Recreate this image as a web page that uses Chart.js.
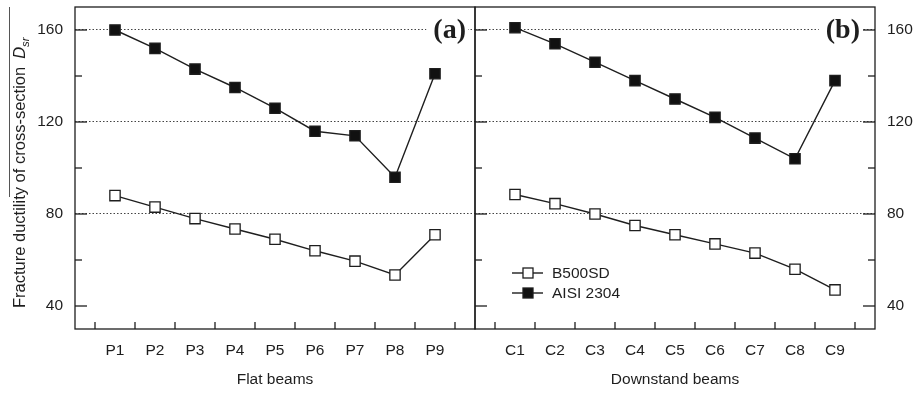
<!DOCTYPE html>
<html>
<head>
<meta charset="utf-8">
<script src="https://cdn.jsdelivr.net/npm/chart.js@4.4.1/dist/chart.umd.min.js"></script>
<style>
  body { margin: 0; background: #fff; width: 915px; height: 393px; overflow: hidden; position: relative; }
  #wrapFlat { position: absolute; left: 0; top: 0; width: 480px; height: 393px; }
  #wrapDown { position: absolute; left: 470px; top: 0; width: 445px; height: 393px; }
</style>
</head>
<body>
<div id="wrapFlat"><canvas id="chartFlat" width="480" height="393"></canvas></div>
<div id="wrapDown"><canvas id="chartDown" width="445" height="393"></canvas></div>
<script>
// beams on each panel
const flatBeams = ['P1', 'P2', 'P3', 'P4', 'P5', 'P6', 'P7', 'P8', 'P9'];
const downstandBeams = ['C1', 'C2', 'C3', 'C4', 'C5', 'C6', 'C7', 'C8', 'C9'];

// fracture ductility D_sr
const b500Flat = [88, 83, 78, 73.5, 69, 64, 59.5, 53.5, 71];
const aisiFlat = [160, 152, 143, 135, 126, 116, 114, 96, 141];
const b500Down = [88.5, 84.5, 80, 75, 71, 67, 63, 56, 47];
const aisiDown = [161, 154, 146, 138, 130, 122, 113, 104, 138];

const seriesNames = ['B500SD', 'AISI 2304'];
const yLabels = [40, 80, 120, 160];
const yMinor = [60, 100, 140];
const yGrid = [80, 120, 160];

const ink = '#1e1e1e';
const sans = '"Liberation Sans", Arial, sans-serif';
const tickFont = { family: sans, size: 15.5 };

function toPoints(values) {
  return values.map((v, i) => ({ x: i + 1, y: v }));
}

function seriesStyle(fill) {
  return {
    borderColor: ink,
    borderWidth: 1.4,
    pointStyle: 'rect',
    pointRadius: 7.3,
    pointHoverRadius: 7.3,
    pointBackgroundColor: fill,
    pointBorderColor: ink,
    pointBorderWidth: 1.3,
    tension: 0,
  };
}

function line(ctx, x1, y1, x2, y2) {
  ctx.beginPath();
  ctx.moveTo(x1, y1);
  ctx.lineTo(x2, y2);
  ctx.stroke();
}

// chart.js pads the plot for edge labels; the figure has none, so drop it
function noEdgePadding(s) {
  s.paddingTop = 0;
  s.paddingBottom = 0;
  s.paddingLeft = 0;
  s.paddingRight = 0;
}

// frame, inward ticks, panel tag, legend, y title
const panelDecor = {
  id: 'panelDecor',
  beforeDatasetsDraw(chart, args, opts) {
    const ctx = chart.ctx;
    const { right } = chart.chartArea;
    const y = chart.scales.y.getPixelForValue(160) + 1;
    ctx.save();
    ctx.font = 'bold 28px "Liberation Serif", "Times New Roman", serif';
    const w = ctx.measureText(opts.tag).width;
    const x = right - opts.tagInset;
    ctx.fillStyle = '#fff';
    ctx.fillRect(x - w - 7, y - 14, w + 9, 28);
    ctx.fillStyle = ink;
    ctx.textAlign = 'right';
    ctx.textBaseline = 'middle';
    ctx.fillText(opts.tag, x, y);
    ctx.restore();
  },
  afterDraw(chart, args, opts) {
    const ctx = chart.ctx;
    const { left, right, top, bottom } = chart.chartArea;
    const xs = chart.scales.x, ys = chart.scales.y;
    ctx.save();
    ctx.strokeStyle = ink;
    ctx.lineWidth = 1.3;
    ctx.strokeRect(left, top, right - left, bottom - top);

    opts.tickSides.forEach(side => {
      const ex = side === 'left' ? left : right;
      const dir = side === 'left' ? 1 : -1;
      yLabels.forEach(v => { const py = ys.getPixelForValue(v); line(ctx, ex, py, ex + dir * 12, py); });
      yMinor.forEach(v => { const py = ys.getPixelForValue(v); line(ctx, ex, py, ex + dir * 7, py); });
    });
    for (let i = 0; i <= opts.count; i++) {
      const px = xs.getPixelForValue(i + 0.5);
      line(ctx, px, bottom, px, bottom - 7);
    }

    if (opts.yTitle) {
      ctx.strokeStyle = '#555';
      ctx.lineWidth = 1;
      line(ctx, 9.5, 7, 9.5, 197);
      ctx.translate(25, 308);
      ctx.rotate(-Math.PI / 2);
      ctx.fillStyle = ink;
      ctx.textBaseline = 'alphabetic';
      ctx.font = '16.5px ' + sans;
      const main = 'Fracture ductility of cross-section';
      ctx.fillText(main, 0, 0);
      let cx = ctx.measureText(main).width + 8;
      ctx.font = 'italic 16.5px ' + sans;
      ctx.fillText('D', cx, 0);
      cx += ctx.measureText('D').width;
      ctx.font = 'italic 11.5px ' + sans;
      ctx.fillText('sr', cx, 4);
      ctx.setTransform(1, 0, 0, 1, 0, 0);
    }

    if (opts.legend) {
      const lx = left + 37;
      chart.data.datasets.forEach((ds, i) => {
        const ly = 273 + i * 20;
        ctx.strokeStyle = ink;
        ctx.lineWidth = 1.4;
        line(ctx, lx, ly, lx + 31, ly);
        ctx.fillStyle = ds.pointBackgroundColor;
        ctx.fillRect(lx + 11, ly - 5, 10, 10);
        ctx.lineWidth = 1.3;
        ctx.strokeRect(lx + 11, ly - 5, 10, 10);
        ctx.fillStyle = ink;
        ctx.font = '15.5px ' + sans;
        ctx.textBaseline = 'middle';
        ctx.textAlign = 'left';
        ctx.fillText(ds.label, lx + 40, ly + 1);
      });
    }
    ctx.restore();
  }
};

function makePanel(canvasId, labels, b500, aisi, cfg) {
  return new Chart(document.getElementById(canvasId), {
    type: 'line',
    data: {
      datasets: [
        { label: seriesNames[0], data: toPoints(b500), ...seriesStyle('#ffffff') },
        { label: seriesNames[1], data: toPoints(aisi), ...seriesStyle('#111111') },
      ],
    },
    plugins: [panelDecor],
    options: {
      responsive: false,
      animation: false,
      events: [],
      layout: { padding: cfg.padding, autoPadding: false },
      plugins: {
        legend: { display: false },
        tooltip: { enabled: false },
        panelDecor: cfg.decor,
      },
      scales: {
        x: {
          type: 'linear',
          min: 0,
          max: labels.length + 1,
          afterBuildTicks: s => { s.ticks = labels.map((l, i) => ({ value: i + 1 })); },
          afterFit: s => { s.height = 64; noEdgePadding(s); },
          grid: { display: false, drawTicks: false, tickLength: 0 },
          border: { display: false },
          ticks: {
            callback: v => labels[v - 1],
            autoSkip: false,
            maxRotation: 0,
            padding: 12,
            color: ink,
            font: tickFont,
          },
          title: { display: true, text: cfg.xTitle, color: ink, font: tickFont, padding: { top: 4, bottom: 4 } },
        },
        y: {
          position: cfg.yPosition,
          min: 30,
          max: 170,
          afterBuildTicks: s => { s.ticks = yLabels.map(v => ({ value: v })); },
          afterFit: s => { s.width = cfg.yWidth; noEdgePadding(s); },
          grid: {
            drawTicks: false,
            tickLength: 0,
            lineWidth: 1.1,
            color: c => (c.tick && yGrid.includes(c.tick.value)) ? '#444' : 'rgba(0,0,0,0)',
          },
          border: { display: false, dash: [1.5, 2] },
          ticks: { padding: 12, color: ink, font: tickFont },
        },
      },
    },
  });
}

makePanel('chartFlat', flatBeams, b500Flat, aisiFlat, {
  padding: { top: 7, right: 5, left: 0, bottom: 0 },
  yPosition: 'left',
  yWidth: 75,
  xTitle: 'Flat beams',
  decor: { tag: '(a)', tagInset: 9, tickSides: ['left'], count: flatBeams.length, yTitle: true, legend: false },
});

makePanel('chartDown', downstandBeams, b500Down, aisiDown, {
  padding: { top: 7, right: 0, left: 5, bottom: 0 },
  yPosition: 'right',
  yWidth: 40,
  xTitle: 'Downstand beams',
  decor: { tag: '(b)', tagInset: 15, tickSides: ['left', 'right'], count: downstandBeams.length, yTitle: false, legend: true },
});
</script>
</body>
</html>
